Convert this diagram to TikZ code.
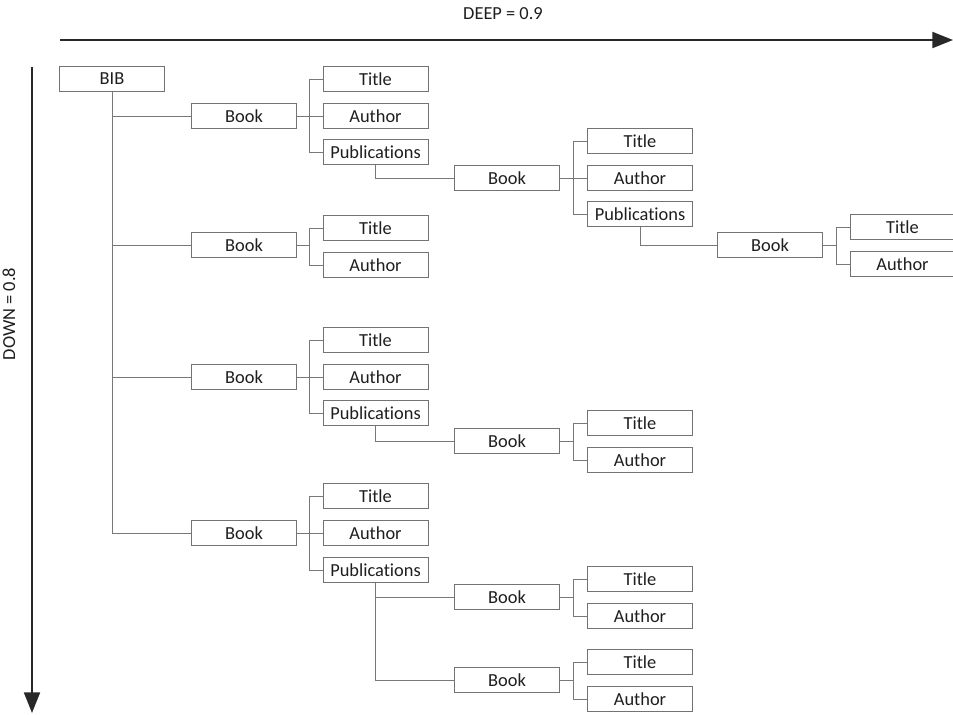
\documentclass[tikz,border=0pt]{standalone}
\usepackage{fontspec}
\setmainfont{Carlito}[Ligatures=NoCommon]
\usetikzlibrary{arrows.meta,calc}
\definecolor{boxgray}{RGB}{115,115,115}
\definecolor{linegray}{RGB}{120,120,120}
\definecolor{txt}{RGB}{30,30,30}
\definecolor{axis}{RGB}{40,40,40}
\tikzset{
  box/.style={draw=boxgray, line width=0.75pt, minimum width=3.15cm, minimum height=0.74cm, inner sep=0pt, text=txt, font=\fontsize{15.7}{18}\selectfont},
  conn/.style={draw=linegray, line width=0.7pt},
  axisarrow/.style={draw=axis, line width=1.7pt, -{Triangle[length=0.62cm,width=0.48cm]}},
  axislabel/.style={text=txt, font=\fontsize{15.7}{18}\selectfont, inner sep=0pt}
}
\begin{document}
\begin{tikzpicture}[x=0.03cm,y=-0.03cm]
\useasboundingbox (0,0) rectangle (953,714);
% axes
\coordinate (hs) at (60,40);
\coordinate (he) at (953,40);
\coordinate (vs) at (32,67);
\coordinate (ve) at (32,713);
\draw[axisarrow] (hs) -- (he);
\draw[axisarrow] (vs) -- (ve);
\node[axislabel] (deep) at (503,14) {DEEP = 0.9};
\node[axislabel, rotate=90, anchor=base] (down) at (15,314) {DOWN = 0.8};
% boxes
\node[box] (bib) at (112,79) {BIB};
\node[box] (b1) at (244,116) {Book};
\node[box] (b1t) at (375.5,79) {Title};
\node[box] (b1a) at (375.5,116) {Author};
\node[box] (b1p) at (375.5,152) {Publications};
\node[box] (b11) at (507,178) {Book};
\node[box] (b11t) at (640,141) {Title};
\node[box] (b11a) at (640,178) {Author};
\node[box] (b11p) at (640,214) {Publications};
\node[box] (b111) at (770,245) {Book};
\node[box] (b111t) at (902.5,227) {Title};
\node[box] (b111a) at (902.5,264) {Author};
\node[box] (b2) at (244,245) {Book};
\node[box] (b2t) at (375.5,228) {Title};
\node[box] (b2a) at (375.5,265) {Author};
\node[box] (b3) at (244,377) {Book};
\node[box] (b3t) at (375.5,340) {Title};
\node[box] (b3a) at (375.5,377) {Author};
\node[box] (b3p) at (375.5,413) {Publications};
\node[box] (b31) at (507,441) {Book};
\node[box] (b31t) at (640,423) {Title};
\node[box] (b31a) at (640,460) {Author};
\node[box] (b4) at (244,533) {Book};
\node[box] (b4t) at (375.5,496) {Title};
\node[box] (b4a) at (375.5,533) {Author};
\node[box] (b4p) at (375.5,570) {Publications};
\node[box] (b41) at (507,597) {Book};
\node[box] (b41t) at (640,579) {Title};
\node[box] (b41a) at (640,616) {Author};
\node[box] (b42) at (507,680) {Book};
\node[box] (b42t) at (640,662) {Title};
\node[box] (b42a) at (640,699) {Author};
% BIB trunk
\draw[conn] (bib.south) |- (b4.west);
\foreach \b in {b1,b2,b3} {\draw[conn] (bib.south |- \b.west) -- (\b.west);}
% three-child fans
\foreach \p in {b1,b11,b3,b4} {
  \coordinate (\p j) at ($(\p.east)!0.5!(\p a.west)$);
  \draw[conn] (\p t.west) -| (\p j) |- (\p p.west);
  \draw[conn] (\p.east) -- (\p a.west);
}
% two-child fans
\foreach \p in {b111,b2,b31,b41,b42} {
  \coordinate (\p j) at ($(\p.east)!0.5!(\p t.west |- \p.east)$);
  \draw[conn] (\p t.west) -| (\p j) |- (\p a.west);
  \draw[conn] (\p.east) -- (\p j);
}
% publications to books
\draw[conn] (b1p.south) |- (b11.west);
\draw[conn] (b11p.south) |- (b111.west);
\draw[conn] (b3p.south) |- (b31.west);
\draw[conn] (b4p.south) |- (b42.west);
\draw[conn] (b4p.south |- b41.west) -- (b41.west);
\end{tikzpicture}
\end{document}
